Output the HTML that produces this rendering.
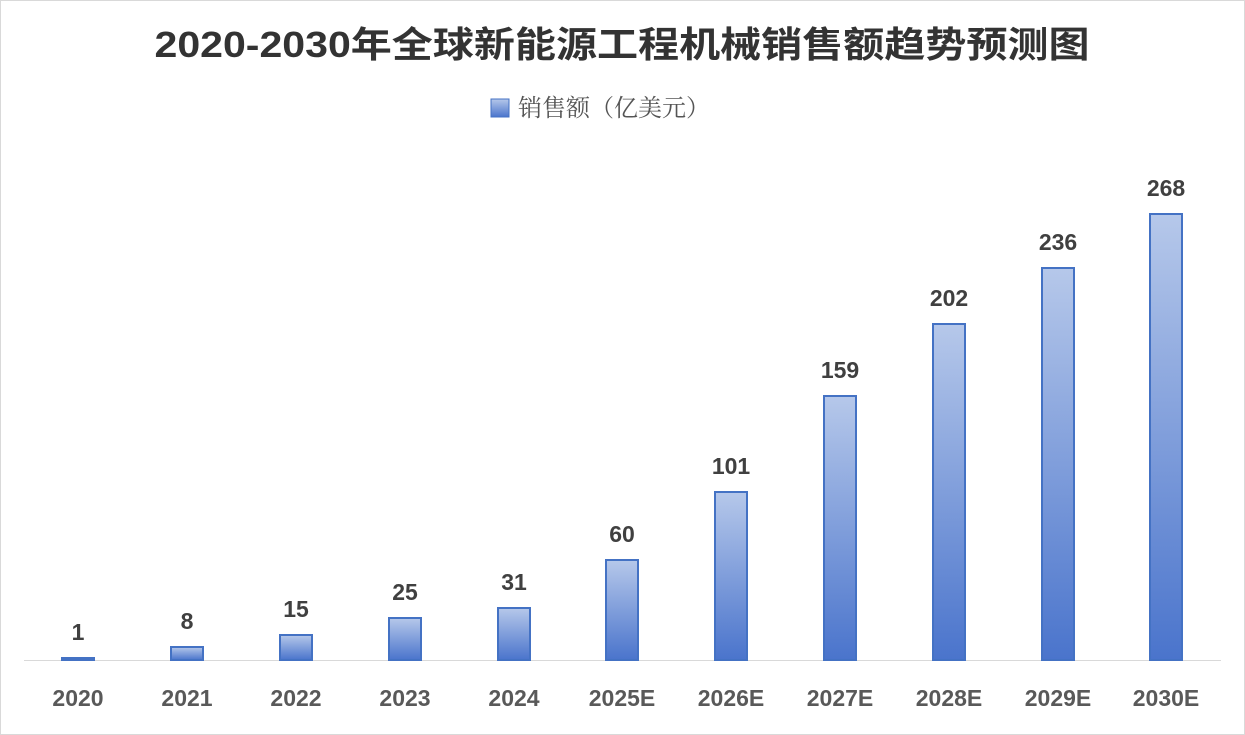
<!DOCTYPE html>
<html><head><meta charset="utf-8"><style>
body{margin:0;background:#fff}
svg{display:block}
</style></head><body>
<svg width="1245" height="735" xmlns="http://www.w3.org/2000/svg" font-family="Liberation Sans, Noto Sans CJK SC, sans-serif">
<defs>
<linearGradient id="g" x1="0" y1="0" x2="0" y2="1">
<stop offset="0" stop-color="#b6c8ea"/><stop offset="1" stop-color="#4a74cc"/>
</linearGradient>
</defs>
<rect x="0.5" y="0.5" width="1244" height="734" fill="#fff" stroke="#d9d9d9"/>
<text x="622" y="57" text-anchor="middle" font-size="36" font-weight="bold" fill="#333" textLength="935" lengthAdjust="spacingAndGlyphs">2020-2030年全球新能源工程机械销售额趋势预测图</text>
<rect x="491" y="99" width="18" height="18" fill="url(#g)" stroke="#4472c4"/>
<text x="518" y="116" font-size="24" fill="#555" font-family="Noto Serif CJK SC, serif">销售额（亿美元）</text>
<line x1="24" y1="660.5" x2="1221" y2="660.5" stroke="#d9d9d9"/>
<g stroke="#4472c4" stroke-width="2" fill="url(#g)">
<rect x="62" y="658" width="32" height="2"/>
<rect x="171" y="647" width="32" height="13"/>
<rect x="280" y="635" width="32" height="25"/>
<rect x="389" y="618" width="32" height="42"/>
<rect x="498" y="608" width="32" height="52"/>
<rect x="606" y="560" width="32" height="100"/>
<rect x="715" y="492" width="32" height="168"/>
<rect x="824" y="396" width="32" height="264"/>
<rect x="933" y="324" width="32" height="336"/>
<rect x="1042" y="268" width="32" height="392"/>
<rect x="1150" y="214" width="32" height="446"/>
</g>
<g font-size="23" font-weight="bold" fill="#404040" text-anchor="middle">
<text x="78" y="640">1</text>
<text x="187" y="629">8</text>
<text x="296" y="617">15</text>
<text x="405" y="600">25</text>
<text x="514" y="590">31</text>
<text x="622" y="542">60</text>
<text x="731" y="474">101</text>
<text x="840" y="378">159</text>
<text x="949" y="306">202</text>
<text x="1058" y="250">236</text>
<text x="1166" y="196">268</text>
</g>
<g font-size="23" font-weight="bold" fill="#595959" text-anchor="middle">
<text x="78" y="706">2020</text>
<text x="187" y="706">2021</text>
<text x="296" y="706">2022</text>
<text x="405" y="706">2023</text>
<text x="514" y="706">2024</text>
<text x="622" y="706">2025E</text>
<text x="731" y="706">2026E</text>
<text x="840" y="706">2027E</text>
<text x="949" y="706">2028E</text>
<text x="1058" y="706">2029E</text>
<text x="1166" y="706">2030E</text>
</g>
</svg>
</body></html>
